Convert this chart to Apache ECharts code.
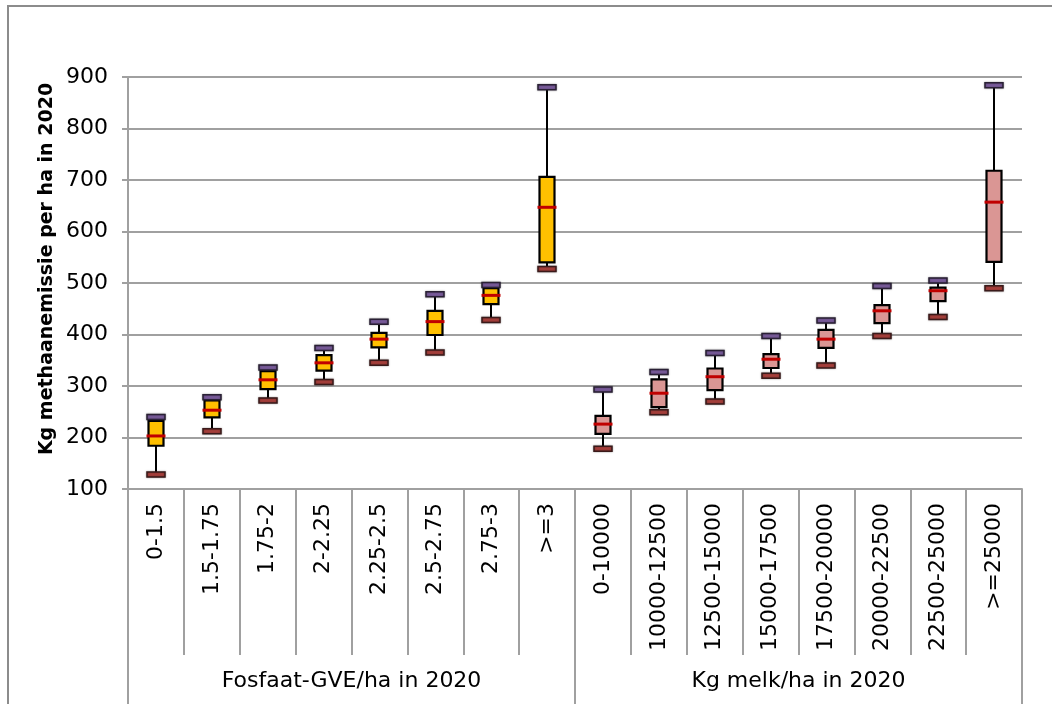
<!DOCTYPE html>
<html>
<head>
<meta charset="utf-8">
<script src="https://cdn.jsdelivr.net/npm/echarts@6/dist/echarts.min.js"></script>
<style>
  html, body { margin: 0; padding: 0; background: #ffffff; }
  #chart { width: 1052px; height: 704px; }
</style>
</head>
<body>
<div id="chart"></div>
<script>
// Category labels, per group
const fosfaatLabels = ['0-1.5', '1.5-1.75', '1.75-2', '2-2.25', '2.25-2.5', '2.5-2.75', '2.75-3', '>=3'];
const melkLabels = ['0-10000', '10000-12500', '12500-15000', '15000-17500', '17500-20000', '20000-22500', '22500-25000', '>=25000'];
const groupNames = ['Fosfaat-GVE/ha in 2020', 'Kg melk/ha in 2020'];

// Five-number summaries per class: [min, Q1, median, Q3, max]
const fosfaatBoxes = [
  [128, 184, 203, 232, 240],
  [212, 239, 253, 272, 278],
  [272, 294, 312, 329, 336],
  [308, 330, 345, 360, 374],
  [345, 375, 391, 403, 425],
  [365, 399, 425, 446, 478],
  [428, 459, 476, 490, 496],
  [527, 540, 647, 706, 880]
];
const melkBoxes = [
  [178, 207, 226, 242, 293],
  [249, 259, 286, 313, 327],
  [270, 292, 318, 334, 364],
  [320, 335, 352, 362, 397],
  [340, 374, 391, 409, 427],
  [397, 422, 446, 457, 494],
  [434, 465, 485, 491, 505],
  [490, 541, 657, 718, 884]
];

const yTitle = 'Kg methaanemissie per ha in 2020';
const categories = fosfaatLabels.concat(melkLabels);

const FONT = '"DejaVu Sans", Verdana, sans-serif';
const GRID_GREY = '#a0a0a0';

function boxRenderer(fillColor) {
  return function (params, api) {
    const x = api.value(0);
    const lo = api.coord([x, api.value(1)]);
    const q1 = api.coord([x, api.value(2)]);
    const med = api.coord([x, api.value(3)]);
    const q3 = api.coord([x, api.value(4)]);
    const hi = api.coord([x, api.value(5)]);
    const cx = Math.round(lo[0]);
    return {
      type: 'group',
      children: [
        { type: 'line', shape: { x1: cx, y1: hi[1], x2: cx, y2: lo[1] },
          style: { stroke: '#000', lineWidth: 2 } },
        { type: 'rect', shape: { x: cx - 7.5, y: q3[1], width: 15, height: q1[1] - q3[1] },
          style: { fill: fillColor, stroke: '#000', lineWidth: 2.2 } },
        { type: 'line', shape: { x1: cx - 9.5, y1: med[1], x2: cx + 9.5, y2: med[1] },
          style: { stroke: '#c00000', lineWidth: 3 } },
        { type: 'rect', shape: { x: cx - 9, y: hi[1] - 2.5, width: 18, height: 5 },
          style: { fill: '#7a5c9c', stroke: '#2a2035', lineWidth: 1.5,
                   shadowBlur: 2, shadowColor: 'rgba(0,0,0,0.35)' } },
        { type: 'rect', shape: { x: cx - 9, y: lo[1] - 2.5, width: 18, height: 5 },
          style: { fill: '#a8403c', stroke: '#3a1a1a', lineWidth: 1.5,
                   shadowBlur: 2, shadowColor: 'rgba(0,0,0,0.35)' } }
      ]
    };
  };
}

const chart = echarts.init(document.getElementById('chart'), null, { renderer: 'canvas' });

chart.setOption({
  backgroundColor: '#ffffff',
  animation: false,
  textStyle: { fontFamily: FONT },
  grid: { left: 128, right: 30, top: 77, bottom: 215, containLabel: false },
  graphic: [
    { type: 'rect', z: 0, shape: { x: 8, y: 6, width: 1100, height: 760 },
      style: { fill: 'none', stroke: '#8c8c8c', lineWidth: 2 } },
    { type: 'text', x: 47, y: 269, rotation: Math.PI / 2,
      style: { text: yTitle, font: 'bold 19px ' + FONT, fill: '#000',
               align: 'center', verticalAlign: 'middle' } }
  ],
  xAxis: [
    {
      type: 'category',
      data: categories,
      boundaryGap: true,
      axisLine: { show: true, lineStyle: { color: GRID_GREY, width: 2 } },
      axisTick: { show: true, interval: 0, length: 166, lineStyle: { color: GRID_GREY, width: 2 } },
      axisLabel: { interval: 0, rotate: 90, margin: 14, fontSize: 22, color: '#000', fontFamily: FONT }
    },
    {
      type: 'category',
      data: groupNames,
      position: 'bottom',
      boundaryGap: true,
      axisLine: { show: false },
      axisTick: { show: true, interval: 0, length: 240, lineStyle: { color: GRID_GREY, width: 2 } },
      axisLabel: { interval: 0, margin: 181, fontSize: 22, color: '#000', fontFamily: FONT }
    }
  ],
  yAxis: {
    type: 'value',
    min: 100,
    max: 900,
    interval: 100,
    axisLine: { show: true, lineStyle: { color: GRID_GREY, width: 2 } },
    axisTick: { show: true, length: 6, lineStyle: { color: GRID_GREY, width: 2 } },
    splitLine: { show: true, lineStyle: { color: GRID_GREY, width: 2 } },
    axisLabel: { margin: 20, fontSize: 22, color: '#000', fontFamily: FONT }
  },
  series: [
    {
      type: 'custom',
      xAxisIndex: 0,
      renderItem: boxRenderer('#ffc000'),
      encode: { x: 0, y: [1, 2, 3, 4, 5] },
      data: fosfaatBoxes.map((b, i) => [i].concat(b)),
      z: 5
    },
    {
      type: 'custom',
      xAxisIndex: 0,
      renderItem: boxRenderer('#da9694'),
      encode: { x: 0, y: [1, 2, 3, 4, 5] },
      data: melkBoxes.map((b, i) => [i + fosfaatLabels.length].concat(b)),
      z: 5
    }
  ]
});
</script>
</body>
</html>
